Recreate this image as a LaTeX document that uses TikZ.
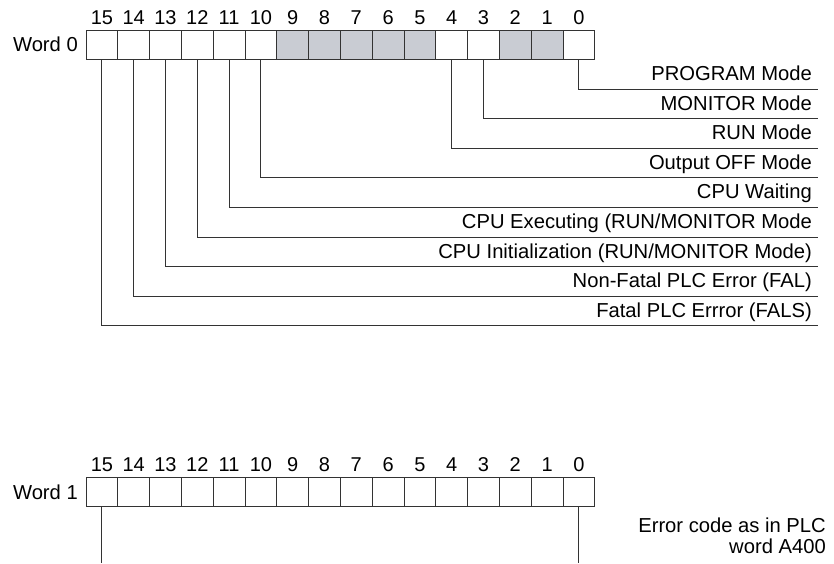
\documentclass[tikz,border=0pt]{standalone}
\usepackage{fontspec}
\setmainfont{Liberation Sans}
\definecolor{cellgray}{HTML}{C9CCD3}
\definecolor{linegray}{HTML}{333333}
\begin{document}
\begin{tikzpicture}[x=1pt,y=-1pt,
  cell/.style={draw=linegray,line width=0.9pt,minimum width=31.8pt,minimum height=29.5pt,inner sep=0pt,outer sep=0pt,anchor=north west},
  graycell/.style={cell,fill=cellgray},
  bitnum/.style={font=\fontsize{20}{22}\selectfont,inner sep=0pt,anchor=base},
  lbl/.style={font=\fontsize{20.2}{22}\selectfont,inner sep=0pt,anchor=base east},
  conn/.style={draw=linegray,line width=0.9pt}]
\useasboundingbox (0,0) rectangle (834,564);
% Word 0
\node[lbl,anchor=east] (w0) at (78,44.5) {Word 0};
\foreach \b in {15,...,0}{
  \pgfmathtruncatemacro{\i}{15-\b}
  \ifnum\b=9 \def\st{graycell}\else\ifnum\b=8 \def\st{graycell}\else\ifnum\b=7 \def\st{graycell}\else\ifnum\b=6 \def\st{graycell}\else\ifnum\b=5 \def\st{graycell}\else\ifnum\b=2 \def\st{graycell}\else\ifnum\b=1 \def\st{graycell}\else\def\st{cell}\fi\fi\fi\fi\fi\fi\fi
  \node[\st] (a\b) at ({86+31.8*\i},30) {};
  \node[bitnum] (na\b) at ([yshift=5.5pt]a\b.north) {\b};
}
% labels for word 0
\foreach \b/\k/\t in {0/0/{PROGRAM Mode},3/1/{MONITOR Mode},4/2/{RUN Mode},10/3/{Output OFF Mode},11/4/{CPU Waiting},12/5/{CPU Executing (RUN/MONITOR Mode},13/6/{CPU Initialization (RUN/MONITOR Mode)},14/7/{Non-Fatal PLC Error (FAL)},15/8/{Fatal PLC Errror (FALS)}}{
  \coordinate (e\b) at (818,{89+29.6*\k});
  \node[lbl] (t\b) at ([xshift=-6pt,yshift=8.5pt]e\b) {\t};
  \draw[conn] (a\b.south) |- (e\b);
}
% Word 1
\node[lbl,anchor=east] (w1) at (78,492) {Word 1};
\foreach \b in {15,...,0}{
  \pgfmathtruncatemacro{\i}{15-\b}
  \node[cell] (c\b) at ({86+31.8*\i},477) {};
  \node[bitnum] (nc\b) at ([yshift=5.5pt]c\b.north) {\b};
}
\coordinate (f15) at (c15.south |- 0,563);
\coordinate (f0) at (c0.south |- 0,563);
\draw[conn] (c15.south) -- (f15);
\draw[conn] (c0.south) -- (f0);
\node[lbl] (err1) at (826,532) {Error code as in PLC};
\node[lbl] (err2) at (826,553) {word A400};
\end{tikzpicture}
\end{document}
